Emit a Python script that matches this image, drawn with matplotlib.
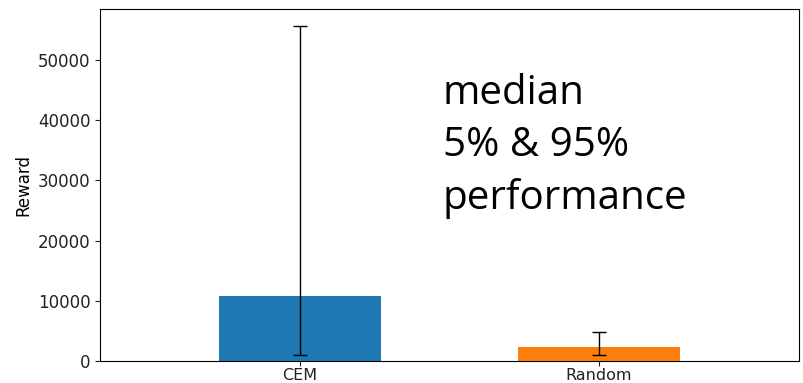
import numpy as np
import matplotlib
matplotlib.use("Agg")
import matplotlib.pyplot as plt

# median reward with 5th / 95th percentile bounds
methods = ["CEM", "Random"]
median = [10800, 2350]
p5 = [1050, 1050]
p95 = [55700, 4830]
colors = ["#1f77b4", "#ff7f0e"]

fig = plt.figure(figsize=(8.04, 3.83), dpi=100)
ax = fig.add_axes([100 / 804, 1 - 361 / 383, 699 / 804, 352 / 383])

x = np.arange(len(methods))
med = np.array(median)
yerr = np.array([med - np.array(p5), np.array(p95) - med])
ax.bar(x, med, width=0.54, color=colors, yerr=yerr, capsize=5,
       error_kw=dict(ecolor="black", elinewidth=1, capthick=1))

ax.set_xticks(x)
ax.set_xticklabels(methods)
ax.set_xlim(-0.67, 1.67)
ax.set_ylim(0, 58500)
ax.tick_params(labelsize=12, colors="#222222")
ax.tick_params(axis="x", labelsize=11.5, pad=1.5)
ax.set_ylabel("Reward", fontsize=12)

fig.text(443 / 804, 1 - 73 / 383, "median\n5% & 95%\nperformance",
         fontsize=29, family="Open Sans", va="top", ha="left",
         linespacing=1.39)

fig.savefig("out.png", dpi=100)
